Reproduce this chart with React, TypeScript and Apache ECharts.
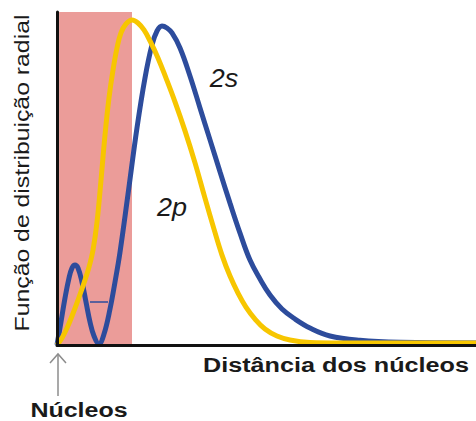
import React, { useEffect, useRef } from "react";
import * as echarts from "echarts";

// Radial distribution (x: distance, arbitrary units 0-100; y: relative probability 0-100)
const s2Points: [number, number][] = [
  [0, 0], [0.95, 6.9], [1.91, 14.1], [2.86, 20.1], [3.58, 23.1], [4.3, 24.0], [5.01, 23.1],
  [5.97, 18.9], [6.92, 12.9], [7.88, 6.9], [8.83, 2.7], [10.0, 0.3], [11.22, 3.3],
  [12.65, 10.8], [13.84, 18.9], [15.04, 27.9], [16.95, 45.3], [19.09, 65.2], [21.0, 80.2],
  [22.67, 90.1], [23.87, 94.3], [25.06, 95.8], [26.25, 95.2], [27.45, 93.7], [29.36, 89.2],
  [31.74, 80.8], [34.13, 71.2], [36.52, 61.6], [38.9, 52.0], [41.29, 42.6], [43.68, 33.6],
  [46.06, 25.5], [48.45, 19.8], [50.84, 15.0], [53.7, 10.8], [56.8, 7.8], [60.38, 5.1],
  [65.16, 2.7], [72.3, 1.4], [81.86, 0.8], [100, 0.6],
];
const p2Points: [number, number][] = [
  [0, 0], [1.19, 2.1], [2.39, 5.1], [3.58, 8.7], [5.01, 13.5], [6.44, 18.6], [7.64, 23.4],
  [8.59, 28.5], [9.55, 36.9], [10.5, 49.5], [11.46, 63.1], [12.41, 74.2], [13.37, 82.6],
  [14.32, 89.2], [15.27, 93.7], [16.47, 96.4], [17.9, 97.6], [19.33, 96.7], [20.76, 94.6],
  [22.2, 91.3], [24.1, 86.2], [26.0, 80.2], [28.16, 73.0], [30.55, 64.3], [32.94, 54.7],
  [35.32, 44.1], [37.47, 34.8], [39.38, 27.0], [41.29, 20.7], [43.2, 15.6], [45.1, 11.4],
  [47.26, 7.8], [49.64, 4.8], [52.5, 2.7], [55.6, 1.5], [60.4, 0.75], [67.5, 0.6], [100, 0.6],
];
const shadedRange: [number, number] = [0.5, 17.9];
const yAxisTitle = "Função de distribuição radial";
const xAxisTitle = "Distância dos núcleos";
const nucleusLabel = "Núcleos";
const seriesLabels = ["2s", "2p"];

const BLUE = "#2d4c9c";
const YELLOW = "#f7c600";
const PINK = "#eb9c99";
const FONT = "'Liberation Sans', Arial, sans-serif";

export default function App() {
  const ref = useRef<HTMLDivElement>(null);
  useEffect(() => {
    document.body.style.margin = "0";
    if (!ref.current) return;
    const chart = echarts.init(ref.current, undefined, { renderer: "svg" });
    chart.setOption({
      animation: false,
      backgroundColor: "#ffffff",
      grid: { left: 57, right: 0, top: 12, bottom: 76 },
      xAxis: {
        type: "value", min: 0, max: 100, z: 5,
        axisLine: { show: true, lineStyle: { color: "#111", width: 3 } },
        axisTick: { show: false }, axisLabel: { show: false }, splitLine: { show: false },
      },
      yAxis: {
        type: "value", min: 0, max: 100, z: 5,
        axisLine: { show: true, lineStyle: { color: "#111", width: 3 } },
        axisTick: { show: false }, axisLabel: { show: false }, splitLine: { show: false },
      },
      series: [
        {
          name: seriesLabels[0], type: "line", data: s2Points, smooth: 0.4, symbol: "none",
          lineStyle: { color: BLUE, width: 5 },
          markArea: {
            silent: true,
            itemStyle: { color: PINK, opacity: 1 },
            data: [[{ xAxis: shadedRange[0] }, { xAxis: shadedRange[1] }]],
          },
        },
        {
          name: seriesLabels[1], type: "line", data: p2Points, smooth: 0.4, symbol: "none",
          lineStyle: { color: YELLOW, width: 5 },
        },
      ],
      graphic: [
        { type: "line", shape: { x1: 90, y1: 302, x2: 108, y2: 302 }, style: { stroke: BLUE, lineWidth: 1.5 }, z: 10 },
        {
          type: "text", x: 22, y: 173, rotation: Math.PI / 2, scaleX: 1.24,
          style: { text: yAxisTitle, x: 0, y: 0, textAlign: "center", textVerticalAlign: "middle", font: `20px ${FONT}`, fill: "#1a1a1a" },
        },
        {
          type: "text", x: 336, y: 365, scaleX: 1.2,
          style: { text: xAxisTitle, x: 0, y: 0, textAlign: "center", textVerticalAlign: "middle", font: `bold 21px ${FONT}`, fill: "#1a1a1a" },
        },
        {
          type: "text", x: 79, y: 410, scaleX: 1.25,
          style: { text: nucleusLabel, x: 0, y: 0, textAlign: "center", textVerticalAlign: "middle", font: `bold 20px ${FONT}`, fill: "#1a1a1a" },
        },
        {
          type: "text", x: 224, y: 78, scaleX: 1.08,
          style: { text: seriesLabels[0], x: 0, y: 0, textAlign: "center", textVerticalAlign: "middle", font: `italic 25px ${FONT}`, fill: "#1a1a1a" },
        },
        {
          type: "text", x: 172, y: 207, scaleX: 1.08,
          style: { text: seriesLabels[1], x: 0, y: 0, textAlign: "center", textVerticalAlign: "middle", font: `italic 25px ${FONT}`, fill: "#1a1a1a" },
        },
        { type: "line", shape: { x1: 58, y1: 354, x2: 58, y2: 396 }, style: { stroke: "#8c8c8c", lineWidth: 1.5 } },
        { type: "polyline", shape: { points: [[50, 363], [58, 354], [66, 363]] }, style: { stroke: "#8c8c8c", lineWidth: 1.5, fill: "none" } },
      ],
    });
    return () => chart.dispose();
  }, []);
  return <div ref={ref} style={{ width: 476, height: 421 }} />;
}
